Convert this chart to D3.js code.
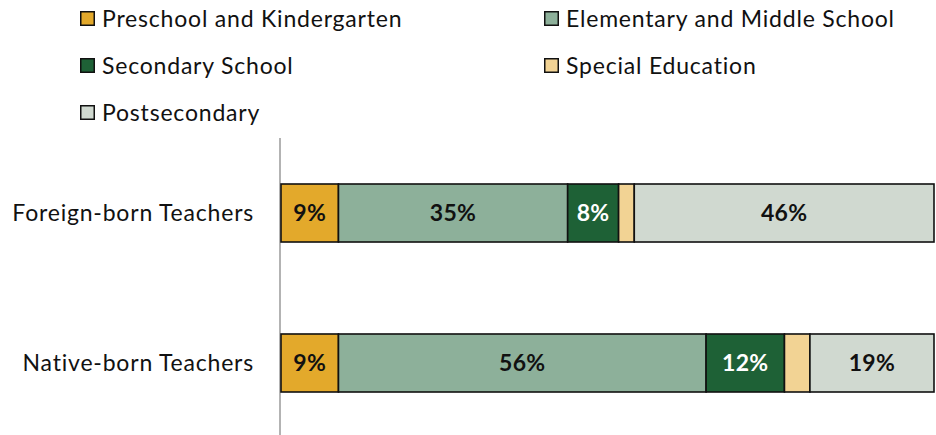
<!DOCTYPE html>
<html>
<head>
<meta charset="utf-8">
<script src="https://cdn.jsdelivr.net/npm/d3@7/dist/d3.min.js"></script>
<style>
  html, body { margin: 0; padding: 0; background: #fff; }
  svg { display: block; }
  text { font-family: Lato, "Open Sans", sans-serif; }
</style>
</head>
<body>
<svg id="chart" width="936" height="435"></svg>
<script>
const categories = ["Foreign-born Teachers", "Native-born Teachers"];
const seriesNames = ["Preschool and Kindergarten", "Elementary and Middle School", "Secondary School", "Special Education", "Postsecondary"];
const preschool = [8.8, 8.8];
const elementary = [35.1, 56.3];
const secondary = [7.8, 12.0];
const special = [2.4, 3.9];
const postsecondary = [45.9, 19.0];
const showLabel = [true, true, true, false, true];
const colors = ["#E3A92B", "#8DB09A", "#1E6136", "#F2D394", "#D0D9D0"];
const labelColors = ["#111", "#111", "#fff", "#111", "#111"];

const seriesValues = [preschool, elementary, secondary, special, postsecondary];
const rows = categories.map((c, i) => {
  const r = { category: c };
  seriesNames.forEach((s, j) => r[s] = seriesValues[j][i]);
  return r;
});

const svg = d3.select("#chart");
const x = d3.scaleLinear().domain([0, 100]).range([281, 934]);
const y = d3.scaleBand().domain(categories).range([138, 438]).paddingInner(0.6133).paddingOuter(0.3067);

const stacked = d3.stack().keys(seriesNames)(rows);

// axis line
svg.append("line")
  .attr("x1", x(0) - 1).attr("x2", x(0) - 1)
  .attr("y1", 138).attr("y2", 435)
  .attr("stroke", "#9a9a9a").attr("stroke-width", 1.5);

const groups = svg.selectAll("g.series").data(stacked).join("g")
  .attr("class", "series")
  .attr("fill", (d, i) => colors[i]);

groups.selectAll("rect").data(d => d).join("rect")
  .attr("x", d => x(d[0]))
  .attr("width", d => x(d[1]) - x(d[0]))
  .attr("y", d => y(d.data.category))
  .attr("height", y.bandwidth())
  .attr("stroke", "#111")
  .attr("stroke-width", 1.6);

groups.each(function(s, i) {
  if (!showLabel[i]) return;
  d3.select(this).selectAll("text").data(s).join("text")
    .attr("x", d => (x(d[0]) + x(d[1])) / 2)
    .attr("y", d => y(d.data.category) + y.bandwidth() / 2)
    .attr("dy", "0.36em")
    .attr("text-anchor", "middle")
    .attr("font-size", 23)
    .attr("font-weight", "bold")
    .attr("letter-spacing", 0.3)
    .attr("fill", labelColors[i])
    .text(d => Math.round(d[1] - d[0]) + "%");
});

// category labels
svg.selectAll("text.cat").data(categories).join("text")
  .attr("class", "cat")
  .attr("x", 254)
  .attr("y", d => y(d) + y.bandwidth() / 2)
  .attr("dy", "0.36em")
  .attr("text-anchor", "end")
  .attr("font-size", 23)
  .attr("letter-spacing", 0.8)
  .attr("fill", "#111")
  .text(d => d);

// legend
const legendPos = [[80, 11], [544, 11], [80, 58], [544, 58], [80, 105]];
const lg = svg.selectAll("g.legend").data(seriesNames).join("g")
  .attr("class", "legend")
  .attr("transform", (d, i) => `translate(${legendPos[i][0]},${legendPos[i][1]})`);
lg.append("rect")
  .attr("x", 0.75).attr("y", 0.75).attr("width", 13.5).attr("height", 13.5)
  .attr("fill", (d, i) => colors[i])
  .attr("stroke", "#111").attr("stroke-width", 1.5);
lg.append("text")
  .attr("x", 22).attr("y", 7.5).attr("dy", "0.36em")
  .attr("font-size", 23)
  .attr("letter-spacing", 0.8)
  .attr("fill", "#111")
  .text(d => d);
</script>
</body>
</html>
